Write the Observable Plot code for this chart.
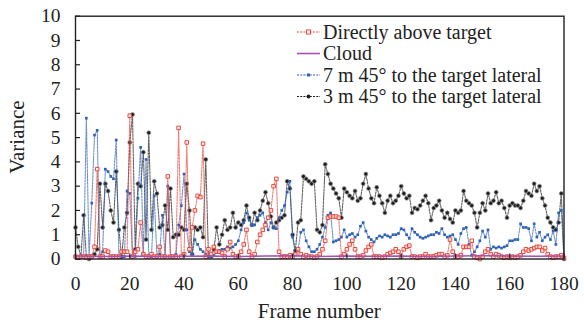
<!DOCTYPE html>
<html>
<head>
<meta charset="utf-8">
<script src="https://cdn.jsdelivr.net/npm/d3@7"></script>
<script src="https://cdn.jsdelivr.net/npm/@observablehq/plot@0.6"></script>
<style>
  html, body { margin: 0; padding: 0; background: #fff; }
  #chart { width: 584px; height: 322px; position: relative; }
  #chart svg, #chart svg text { font-family: "Liberation Serif", "DejaVu Serif", serif !important; }
</style>
</head>
<body>
<div id="chart"></div>
<script>
// ---- data (frame index = position in array) ----
const directlyAbove = [
  0.1,0.05,0.1,0.1,0.05,0.1,0.1,0.5,3.7,0.1,
  0.1,0.35,0.3,0.1,0.1,0.1,0.1,0.3,0.3,0.3,
  5.9,0.1,0.3,0.4,1.5,0.2,0.1,0.1,0.2,0.1,
  0.1,0.5,0.1,0.1,3.4,0.1,0.1,0.1,5.4,0.1,
  0.2,4.8,0.4,1.3,2.0,2.6,2.55,4.75,0.1,0.4,
  0.2,0.5,0.3,0.3,0.25,0.1,0.4,0.7,0.2,0.1,
  0.1,0.3,0.6,1.2,0.3,0.1,0.2,0.7,1.0,1.2,
  1.4,1.7,2.0,3.0,3.3,0.3,0.1,0.1,0.1,0.15,
  0.1,0.2,0.4,0.2,0.1,0.15,0.1,0.1,0.05,0.1,
  0.2,0.4,0.75,1.7,1.75,1.75,1.75,1.7,0.1,0.2,
  0.4,0.6,0.75,0.4,0.1,0.1,0.15,0.35,0.5,0.6,
  0.1,0.1,0.1,0.05,0.1,0.2,0.25,0.3,0.4,0.3,
  0.1,0.4,0.5,0.55,0.1,0.1,0.05,0.1,0.1,0.2,
  0.1,0.1,0.1,0.15,0.2,0.2,0.1,0.15,0.8,0.3,
  0.1,0.1,0.15,0.5,0.5,0.5,0.75,0.1,0.05,0.0,
  0.1,0.3,0.4,0.2,0.1,0.2,0.15,0.1,0.05,0.1,
  0.05,0.1,0.05,0.1,0.15,0.3,0.4,0.35,0.4,0.45,
  0.5,0.5,0.35,0.45,0.2,0.1,0.05,0.1,0.1,0.15,
  0.05
];
const cloudFrames = [0,10,20,30,40,50,60,70,80,90,100,110,120,130,140,150,160,170,180];
const cloud = [0.12,0.1,0.12,0.1,0.11,0.12,0.1,0.12,0.13,0.1,0.12,0.11,0.12,0.1,0.12,0.13,0.12,0.11,0.12];
const lateral7m = [
  0.1,0.05,0.05,0.1,5.8,0.1,2.3,5.1,5.3,0.1,
  0.3,3.7,3.6,3.4,3.3,4.9,0.1,0.05,0.1,2.8,
  2.7,0.1,0.1,2.5,4.6,0.2,4.1,0.1,0.1,2.6,
  0.1,0.2,1.8,0.1,3.0,0.1,0.1,0.2,1.4,2.2,
  3.5,1.2,0.3,0.2,0.8,0.6,0.4,0.3,0.2,0.1,
  0.1,0.15,0.3,0.35,0.4,0.4,0.5,0.45,0.5,0.6,
  0.75,1.2,1.5,1.9,1.6,1.4,1.4,1.7,1.8,1.9,
  1.5,1.2,1.5,1.3,1.25,1.7,2.0,2.2,2.75,3.2,
  0.9,0.2,0.35,1.1,1.2,0.75,0.5,0.3,0.3,0.4,
  0.6,0.9,1.3,1.8,1.9,0.7,0.75,0.8,0.9,1.2,
  0.9,1.0,1.05,0.9,1.0,1.35,1.5,1.15,0.9,0.8,
  0.7,0.85,0.95,0.9,1.0,0.95,0.9,1.0,1.0,1.05,
  1.25,1.2,1.0,0.85,1.25,1.1,1.0,0.9,0.85,0.9,
  0.95,1.0,1.0,1.1,1.05,1.25,1.0,0.9,0.95,1.0,
  0.8,0.6,1.05,1.25,1.3,0.6,0.15,0.3,0.5,0.75,
  1.15,0.9,1.2,0.4,0.5,0.45,0.5,0.45,0.5,0.55,
  0.75,0.75,0.8,0.8,1.45,1.3,1.3,1.25,0.75,1.45,
  0.9,1.1,0.75,0.9,1.0,0.8,1.15,0.6,1.9,2.0,
  0.0
];
const lateral3m = [
  1.3,0.5,0.1,1.8,0.1,0.0,0.1,0.2,0.4,3.1,
  1.3,3.1,2.8,2.0,1.5,3.6,1.2,0.1,1.3,1.9,
  4.8,5.95,0.4,3.1,3.0,4.4,0.8,5.2,1.2,3.2,
  2.7,1.3,1.4,2.2,1.2,2.9,0.9,1.0,1.0,1.3,
  1.2,3.1,2.0,0.2,1.3,1.2,1.3,0.9,4.1,0.1,
  0.1,0.4,1.3,0.6,1.0,1.6,1.2,1.3,1.9,1.3,
  1.5,1.4,1.6,2.2,1.7,1.4,1.9,1.6,2.0,2.4,
  2.75,2.3,1.75,1.3,1.5,1.6,1.7,1.8,3.2,2.9,
  1.0,0.35,1.5,1.6,3.4,3.3,3.2,3.1,3.2,1.2,
  1.1,1.4,3.9,3.5,3.1,2.9,2.7,2.5,1.7,2.9,
  2.75,2.6,2.5,2.8,2.4,2.5,3.1,3.5,2.9,2.5,
  2.3,2.95,2.6,2.3,1.9,2.4,2.6,2.3,2.4,2.6,
  3.0,2.7,2.5,2.6,1.9,2.1,2.05,2.2,2.4,2.6,
  2.3,1.6,2.1,2.2,2.4,2.0,1.7,1.9,1.65,1.5,
  2.0,1.9,2.0,2.8,2.4,2.3,2.2,1.9,1.3,1.9,
  2.3,2.0,2.7,2.3,2.4,2.75,2.3,2.4,2.1,1.7,
  2.2,2.3,2.2,2.2,2.1,2.4,2.8,2.7,2.6,3.1,
  2.8,3.0,2.5,2.2,1.7,1.5,1.3,1.2,1.5,2.7,
  0.0
];
const xTicks = [0,20,40,60,80,100,120,140,160,180];
const yTicks = [0,1,2,3,4,5,6,7,8,9,10];
const legendLabels = ["Directly above target","Cloud","7 m 45° to the target lateral","3 m 45° to the target lateral"];
const xLabel = "Frame number";
const yLabel = "Variance";

// ---- styles ----
const RED = "#e8473c", PURPLE = "#a650b0", BLUE = "#2f62b6", BLACK = "#1e1e1e";
const W = 584, H = 322;
const mL = 75, mR = 20.5, mT = 15.7, mB = 63.5;
const plotW = W - mL - mR, plotH = H - mT - mB;
const FONT = "'Liberation Serif', 'DejaVu Serif', serif";

const idx = (d, i) => i;
const val = d => d;
const dash = "2,1.2";

const chart = Plot.plot({
  width: W, height: H,
  marginLeft: mL, marginRight: mR, marginTop: mT, marginBottom: mB,
  style: { fontFamily: FONT, fontSize: "19px", color: "#222", background: "#fff" },
  x: { domain: [0, 180], label: null },
  y: { domain: [0, 10], label: null },
  marks: [
    Plot.axisX(xTicks, { tickSize: 0, tickPadding: 17, fontSize: 19.5, fontFamily: FONT, label: null }),
    Plot.axisY(yTicks, { tickSize: 0, tickPadding: 15, fontSize: 19.5, fontFamily: FONT, label: null }),
    // 3 m lateral
    Plot.line(lateral3m, { x: idx, y: val, stroke: BLACK, strokeWidth: 1.1, strokeDasharray: dash, strokeOpacity: 0.7 }),
    Plot.dot(lateral3m, { x: idx, y: val, r: 2, fill: BLACK, stroke: "#999", strokeWidth: 0.7 }),
    // 7 m lateral
    Plot.line(lateral7m, { x: idx, y: val, stroke: BLUE, strokeWidth: 1.1, strokeDasharray: dash, strokeOpacity: 0.7 }),
    Plot.dot(lateral7m, { x: idx, y: val, symbol: "square", r: 1.5, fill: BLUE }),
    // directly above
    Plot.line(directlyAbove, { x: idx, y: val, stroke: RED, strokeWidth: 1.1, strokeDasharray: dash, strokeOpacity: 0.7 }),
    Plot.dot(directlyAbove, { x: idx, y: val, symbol: "square", r: 2, fill: "#fff", fillOpacity: 0.6, stroke: RED, strokeWidth: 1 }),
    // cloud
    Plot.line(cloud, { x: (d, i) => cloudFrames[i], y: val, stroke: PURPLE, strokeWidth: 1.5 }),
    // inward ticks
    Plot.tickY(yTicks, { y: val, stroke: "#222", strokeWidth: 1.2, insetRight: plotW - 5 }),
    Plot.tickX(xTicks, { x: val, stroke: "#222", strokeWidth: 1.2, insetTop: plotH - 5 }),
    Plot.frame({ stroke: "#222", strokeWidth: 1.4 })
  ]
});

const svg = d3.select(chart);
// axis titles
svg.append("text")
  .attr("x", mL + plotW / 2).attr("y", 318)
  .attr("text-anchor", "middle").attr("font-family", FONT)
  .style("font-size", "21px").attr("fill", "#222")
  .text(xLabel);
svg.append("text")
  .attr("transform", `translate(24,${mT + plotH / 2}) rotate(-90)`)
  .attr("text-anchor", "middle").attr("font-family", FONT)
  .style("font-size", "21px").attr("fill", "#222")
  .text(yLabel);

// legend
const legendStyles = [
  { color: RED, dash: dash, marker: "squareOpen" },
  { color: PURPLE, dash: null, marker: null },
  { color: BLUE, dash: dash, marker: "square" },
  { color: BLACK, dash: dash, marker: "circle" }
];
const baselines = [38.5, 60, 81.5, 103];
const lg = svg.append("g");
legendLabels.forEach((lab, i) => {
  const st = legendStyles[i];
  const y = baselines[i] - 6.5;
  lg.append("line").attr("x1", 297).attr("x2", 320).attr("y1", y).attr("y2", y)
    .attr("stroke", st.color).attr("stroke-width", st.dash ? 1.1 : 1.6)
    .attr("stroke-dasharray", st.dash);
  if (st.marker === "squareOpen") {
    lg.append("rect").attr("x", 306.5).attr("y", y - 2).attr("width", 4).attr("height", 4)
      .attr("fill", "#fff").attr("stroke", st.color).attr("stroke-width", 1);
  } else if (st.marker === "square") {
    lg.append("rect").attr("x", 307).attr("y", y - 1.5).attr("width", 3).attr("height", 3).attr("fill", st.color);
  } else if (st.marker === "circle") {
    lg.append("circle").attr("cx", 308.5).attr("cy", y).attr("r", 1.9).attr("fill", st.color);
  }
  lg.append("text").attr("x", 323).attr("y", baselines[i])
    .attr("text-anchor", "start").attr("font-family", FONT)
    .style("font-size", "20px").attr("fill", "#222")
    .text(lab);
});

document.getElementById("chart").appendChild(chart);
</script>
</body>
</html>
